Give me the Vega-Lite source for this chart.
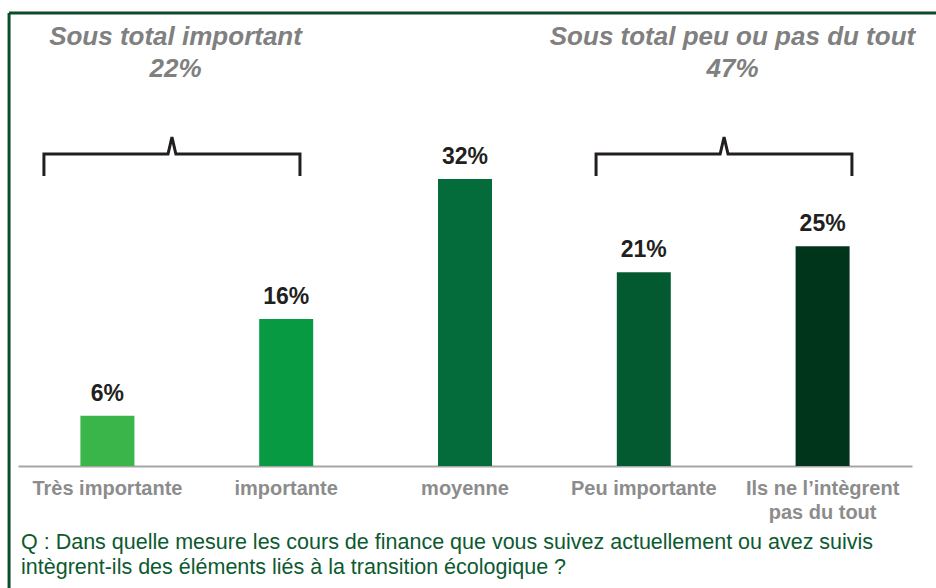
{
  "$schema": "https://vega.github.io/schema/vega-lite/v6.json",
  "autosize": "none",
  "width": 894,
  "height": 453,
  "padding": {"left": 18, "top": 13, "right": 24, "bottom": 122},
  "background": "white",
  "config": {"view": {"stroke": null}, "font": "Liberation Sans"},
  "datasets": {
    "bars": [
      {"cat": "Très importante", "value": 5.6, "label": "6%"},
      {"cat": "importante", "value": 16.4, "label": "16%"},
      {"cat": "moyenne", "value": 32.0, "label": "32%"},
      {"cat": "Peu importante", "value": 21.6, "label": "21%"},
      {"cat": "Ils ne l’intègrent pas du tout", "value": 24.5, "label": "25%"}
    ],
    "brackets": [
      {"grp": "important", "i": 0, "bx": 0.145, "by": 32.33},
      {"grp": "important", "i": 1, "bx": 0.145, "by": 34.78},
      {"grp": "important", "i": 2, "bx": 0.839, "by": 34.78},
      {"grp": "important", "i": 3, "bx": 0.861, "by": 36.68},
      {"grp": "important", "i": 4, "bx": 0.883, "by": 34.78},
      {"grp": "important", "i": 5, "bx": 1.577, "by": 34.78},
      {"grp": "important", "i": 6, "bx": 1.577, "by": 32.33},
      {"grp": "peu", "i": 0, "bx": 3.233, "by": 32.33},
      {"grp": "peu", "i": 1, "bx": 3.233, "by": 34.78},
      {"grp": "peu", "i": 2, "bx": 3.927, "by": 34.78},
      {"grp": "peu", "i": 3, "bx": 3.949, "by": 36.68},
      {"grp": "peu", "i": 4, "bx": 3.971, "by": 34.78},
      {"grp": "peu", "i": 5, "bx": 4.664, "by": 34.78},
      {"grp": "peu", "i": 6, "bx": 4.664, "by": 32.33}
    ],
    "totals": [
      {"grp": "important", "text": "Sous total important\n22%", "tx": 0.881},
      {"grp": "peu", "text": "Sous total peu ou pas du tout\n47%", "tx": 3.996}
    ],
    "question": [
      {"text": "Q : Dans quelle mesure les cours de finance que vous suivez actuellement ou avez suivis\nintègrent-ils des éléments liés à la transition écologique ?"}
    ]
  },
  "resolve": {"scale": {"x": "independent"}, "axis": {"x": "independent"}},
  "layer": [
    {
      "data": {"name": "bars"},
      "layer": [
        {
          "mark": {"type": "bar"},
          "encoding": {
            "x": {
              "field": "cat", "type": "nominal", "sort": null,
              "scale": {"paddingInner": 0.698, "paddingOuter": 0.349},
              "axis": {
                "title": null,
                "ticks": false,
                "domainColor": "#a6a6a6",
                "domainWidth": 2,
                "labelAngle": 0,
                "labelFont": "Liberation Sans",
                "labelFontSize": 20,
                "labelFontWeight": "bold",
                "labelColor": "#8c8c8c",
                "labelPadding": 12,
                "labelLineHeight": 24,
                "labelLimit": 300,
                "labelExpr": "datum.label == 'Ils ne l’intègrent pas du tout' ? ['Ils ne l’intègrent', 'pas du tout'] : datum.label"
              }
            },
            "y": {"field": "value", "type": "quantitative", "scale": {"domain": [0, 50.5], "nice": false}, "axis": null},
            "color": {
              "field": "cat", "type": "nominal",
              "scale": {
                "domain": ["Très importante", "importante", "moyenne", "Peu importante", "Ils ne l’intègrent pas du tout"],
                "range": ["#39b54a", "#089a43", "#046c3a", "#035a30", "#00351c"]
              },
              "legend": null
            }
          }
        },
        {
          "mark": {"type": "text", "baseline": "alphabetic", "dy": -15, "font": "Liberation Sans", "fontSize": 23, "fontWeight": "bold", "color": "#231f20"},
          "encoding": {
            "x": {"field": "cat", "type": "nominal", "sort": null},
            "y": {"field": "value", "type": "quantitative"},
            "text": {"field": "label"}
          }
        }
      ]
    },
    {
      "data": {"name": "brackets"},
      "mark": {"type": "line", "color": "#231f20", "strokeWidth": 3, "strokeJoin": "miter", "strokeCap": "butt"},
      "encoding": {
        "x": {"field": "bx", "type": "quantitative", "scale": {"domain": [0, 5], "nice": false, "zero": false}, "axis": null},
        "y": {"field": "by", "type": "quantitative", "scale": {"domain": [0, 50.5], "nice": false}},
        "detail": {"field": "grp"},
        "order": {"field": "i"}
      }
    },
    {
      "data": {"name": "totals"},
      "mark": {"type": "text", "lineBreak": "\n", "lineHeight": 32, "baseline": "alphabetic", "align": "center", "font": "Liberation Sans", "fontSize": 26, "fontWeight": "bold", "fontStyle": "italic", "color": "#808080"},
      "encoding": {
        "x": {"field": "tx", "type": "quantitative", "scale": {"domain": [0, 5], "nice": false, "zero": false}, "axis": null},
        "y": {"datum": 46.93, "type": "quantitative"},
        "text": {"field": "text"}
      }
    },
    {
      "data": {"name": "question"},
      "mark": {"type": "text", "lineBreak": "\n", "lineHeight": 25, "baseline": "alphabetic", "align": "left", "font": "Liberation Sans", "fontSize": 21.5, "fontWeight": "normal", "color": "#0c5a30"},
      "encoding": {
        "x": {"datum": 0.017, "type": "quantitative", "scale": {"domain": [0, 5], "nice": false, "zero": false}, "axis": null},
        "y": {"datum": -9.25, "type": "quantitative"},
        "text": {"field": "text"}
      }
    },
    {
      "data": {"values": [{}]},
      "mark": {"type": "rule", "color": "#0b4d2a", "strokeWidth": 3},
      "encoding": {
        "x": {"datum": -0.05, "type": "quantitative", "scale": {"domain": [0, 5], "nice": false, "zero": false}, "axis": null},
        "x2": {"datum": 6},
        "y": {"datum": 50.5, "type": "quantitative"}
      }
    },
    {
      "data": {"values": [{}]},
      "mark": {"type": "rule", "color": "#0b4d2a", "strokeWidth": 3},
      "encoding": {
        "x": {"datum": -0.05, "type": "quantitative", "scale": {"domain": [0, 5], "nice": false, "zero": false}, "axis": null},
        "y": {"datum": 50.5, "type": "quantitative"},
        "y2": {"datum": -20}
      }
    }
  ]
}
